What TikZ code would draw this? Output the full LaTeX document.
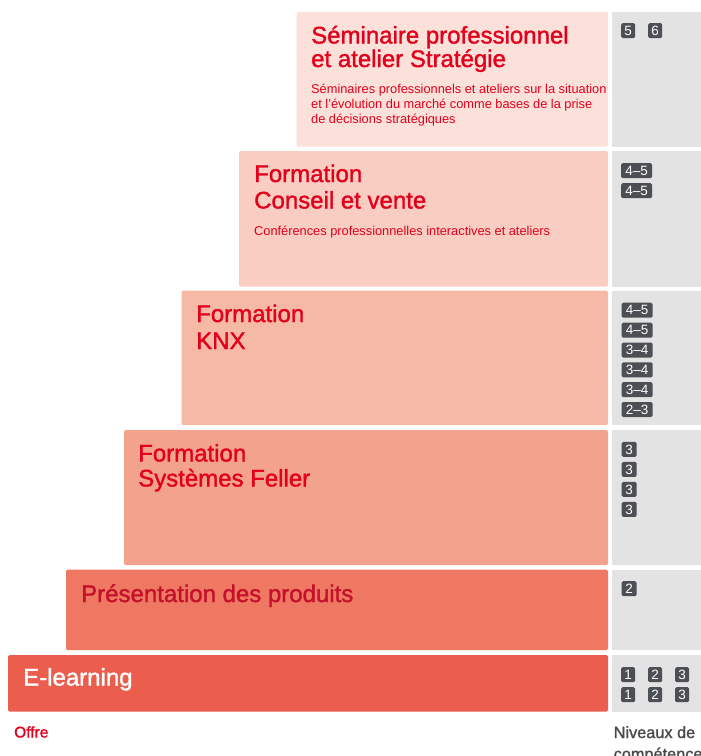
\documentclass[tikz,border=0pt]{standalone}
\usepackage{fontspec}
\setmainfont{Liberation Sans}
\newfontfamily\titlefont{Liberation Sans}[BoldFont=Liberation Sans, BoldFeatures={FakeBold=1.4}]
\newfontfamily\semifont{Liberation Sans}[BoldFont=Liberation Sans, BoldFeatures={FakeBold=1.4}]
\definecolor{rowA}{HTML}{FCE1DA}
\definecolor{rowB}{HTML}{F9CDC1}
\definecolor{rowC}{HTML}{F6B9A6}
\definecolor{rowD}{HTML}{F3A38D}
\definecolor{rowE}{HTML}{EF7862}
\definecolor{rowF}{HTML}{EB5D4D}
\definecolor{panel}{HTML}{E3E3E3}
\definecolor{fred}{HTML}{E3001B}
\definecolor{dred}{HTML}{C4102B}
\definecolor{badgec}{HTML}{4C5054}
\definecolor{graytext}{HTML}{4A4A4A}
\begin{document}
\begin{tikzpicture}[x=1pt,y=-1pt,
  rowbox/.style={rounded corners=1.5pt},
  ttl/.style={anchor=base west, inner sep=0pt, text=fred, font=\titlefont\bfseries\fontsize{24}{24}\selectfont},
  desc/.style={anchor=base west, inner sep=0pt, text=fred, font=\fontsize{12.8}{15}\selectfont},
  badge/.style={fill=badgec, rounded corners=1.5pt, text=white, font=\fontsize{13.5}{13.5}\selectfont,
    inner sep=0pt, minimum height=15pt, minimum width=14pt, anchor=north west},
  wbadge/.style={badge, minimum width=31pt}]
\useasboundingbox (0,0) rectangle (701,756);
\clip (0,0) rectangle (701,756);
\fill[white] (0,0) rectangle (701,756);

% row boxes
\fill[rowA, rowbox] (296.5,12) rectangle (608,146.5);
\fill[rowB, rowbox] (239,151) rectangle (608,286.5);
\fill[rowC, rowbox] (181.5,290.5) rectangle (608,425);
\fill[rowD, rowbox] (124,430) rectangle (608,565);
\fill[rowE, rowbox] (66,569.5) rectangle (608,650);
\fill[rowF, rowbox] (8,655) rectangle (608,711.5);

% grey level panels
\fill[panel] (612,12) rectangle (706,146.5);
\fill[panel] (612,151) rectangle (706,286.5);
\fill[panel] (612,290.5) rectangle (706,425);
\fill[panel] (612,430) rectangle (706,565);
\fill[panel] (612,569.5) rectangle (706,650);
\fill[panel] (612,655) rectangle (706,711.5);

% row 1
\node[ttl] (t1a) at (311,43.5) {Séminaire professionnel};
\node[ttl] (t1b) at (311,67) {et atelier Stratégie};
\node[desc] (d1a) at (311,93.5) {Séminaires professionnels et ateliers sur la situation};
\node[desc] (d1b) at (311,108.5) {et l’évolution du marché comme bases de la prise};
\node[desc] (d1c) at (311,123.5) {de décisions stratégiques};
\node[badge] (b1a) at (621,23) {5};
\node[badge] (b1b) at (648,23) {6};

% row 2
\node[ttl] (t2a) at (254,182) {Formation};
\node[ttl] (t2b) at (254,208.5) {Conseil et vente};
\node[desc] (d2a) at (254,235.5) {Conférences professionnelles interactives et ateliers};
\node[wbadge] (b2a) at (621,163) {4–5};
\node[wbadge] (b2b) at (621,183) {4–5};

% row 3
\node[ttl] (t3a) at (196,322) {Formation};
\node[ttl] (t3b) at (196,349) {KNX};
\node[wbadge] (b3a) at (621.5,302.5) {4–5};
\node[wbadge] (b3b) at (621.5,322.5) {4–5};
\node[wbadge] (b3c) at (621.5,342.3) {3–4};
\node[wbadge] (b3d) at (621.5,362.2) {3–4};
\node[wbadge] (b3e) at (621.5,382) {3–4};
\node[wbadge] (b3f) at (621.5,401.8) {2–3};

% row 4
\node[ttl] (t4a) at (138,461.5) {Formation};
\node[ttl] (t4b) at (138,486.5) {Systèmes Feller};
\node[badge, minimum width=15pt] (b4a) at (621.5,441.7) {3};
\node[badge, minimum width=15pt] (b4b) at (621.5,461.7) {3};
\node[badge, minimum width=15pt] (b4c) at (621.5,481.7) {3};
\node[badge, minimum width=15pt] (b4d) at (621.5,501.7) {3};

% row 5
\node[ttl, text=dred] (t5a) at (81,602) {Présentation des produits};
\node[badge, minimum width=15pt] (b5a) at (621.5,581) {2};

% row 6
\node[ttl, text=white] (t6a) at (23,685.5) {E-learning};
\node[badge] (b6a) at (621,667) {1};
\node[badge] (b6b) at (648,667) {2};
\node[badge] (b6c) at (675,667) {3};
\node[badge] (b6d) at (621,687) {1};
\node[badge] (b6e) at (648,687) {2};
\node[badge] (b6f) at (675,687) {3};

% footer labels
\node[anchor=base west, inner sep=0pt, text=fred, font=\semifont\bfseries\fontsize{15.5}{15.5}\selectfont] (offre) at (14,737.5) {Offre};
\node[anchor=base west, inner sep=0pt, text=graytext, font=\semifont\bfseries\fontsize{16.3}{16.3}\selectfont] (niv1) at (613.5,738) {Niveaux de};
\node[anchor=base west, inner sep=0pt, text=graytext, font=\semifont\bfseries\fontsize{16.3}{16.3}\selectfont] (niv2) at (613.5,759.5) {compétences};
\end{tikzpicture}
\end{document}
